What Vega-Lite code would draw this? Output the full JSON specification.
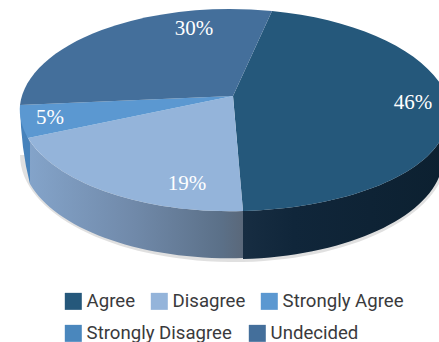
{
  "$schema": "https://vega.github.io/schema/vega-lite/v6.json",
  "width": 439,
  "height": 342,
  "padding": 0,
  "autosize": {"type": "none"},
  "background": "white",
  "config": {
    "view": {"stroke": null},
    "legend": {
      "title": null,
      "orient": "none",
      "direction": "horizontal",
      "symbolType": "square",
      "symbolSize": 289,
      "symbolStrokeWidth": 0,
      "symbolOpacity": 1,
      "labelFont": "Roboto",
      "labelFontSize": 18.6,
      "labelColor": "#3a3a3c",
      "labelOffset": 4,
      "labelLimit": 300
    }
  },
  "data": {
    "values": [
      {"answer": "Agree", "pct": 46, "label": "46%"},
      {"answer": "Disagree", "pct": 19, "label": "19%"},
      {"answer": "Strongly Agree", "pct": 5, "label": "5%"},
      {"answer": "Strongly Disagree", "pct": 0, "label": ""},
      {"answer": "Undecided", "pct": 30, "label": "30%"}
    ]
  },
  "resolve": {"scale": {"fill": "independent"}, "legend": {"fill": "independent"}},
  "layer": [
    {
      "transform": [{"filter": {"field": "answer", "equal": "Agree"}}],
      "mark": {"type": "point", "filled": true, "size": 4, "opacity": 0.12, "fill": "#000000", "strokeWidth": 0,
        "shape": "M-199.5,-16 A214,107 0 0 0 9.5,91 A214,107 0 0 0 227.5,-16 Z"}
    },
    {
      "transform": [{"filter": {"field": "answer", "equal": "Agree"}}],
      "mark": {"type": "point", "filled": true, "size": 4, "opacity": 1, "strokeWidth": 0,
        "shape": "M23.5,40 A218,94 0 0 0 227.5,-53 L223.5,-14 A214,102 0 0 1 23.5,88 Z",
        "fill": {"gradient": "linear", "x1": 0, "x2": 1, "y1": 0, "y2": 0,
          "stops": [{"offset": 0, "color": "#172d42"}, {"offset": 0.25, "color": "#10263a"}, {"offset": 1, "color": "#0c2030"}]}}
    },
    {
      "transform": [{"filter": {"field": "answer", "equal": "Disagree"}}],
      "mark": {"type": "point", "filled": true, "size": 4, "opacity": 1, "strokeWidth": 0,
        "shape": "M-191.5,-33 A210,102 0 0 0 23.5,40 L23.5,87 A207,102 0 0 1 -189.5,13 Z",
        "fill": {"gradient": "linear", "x1": 0, "x2": 1, "y1": 0, "y2": 0,
          "stops": [{"offset": 0, "color": "#84a4ca"}, {"offset": 0.5, "color": "#7089a9"}, {"offset": 0.9, "color": "#5b7088"}, {"offset": 1, "color": "#5a687a"}]}}
    },
    {
      "transform": [{"filter": {"field": "answer", "equal": "Strongly Agree"}}],
      "mark": {"type": "point", "filled": true, "size": 4, "opacity": 1, "strokeWidth": 0,
        "shape": "M-199.5,-66 Q-198.5,-21 -189.5,13 L-189.5,-28 L-191.5,-33 Z",
        "fill": "#4682bb"}
    },
    {
      "transform": [{"filter": "indexof(['Agree','Disagree','Strongly Agree'], datum.answer) >= 0"}],
      "mark": {"type": "point", "filled": true, "size": 4, "opacity": 1, "strokeWidth": 0},
      "encoding": {
        "fill": {
          "field": "answer",
          "type": "nominal",
          "scale": {
            "domain": ["Agree", "Disagree", "Strongly Agree"],
            "range": ["#25587b", "#94b4da", "#5b98d1"]
          },
          "legend": {"orient": "none", "direction": "horizontal", "legendX": 64, "legendY": 292, "columns": 3, "columnPadding": 14}
        },
        "shape": {
          "field": "answer",
          "type": "nominal",
          "legend": null,
          "scale": {
            "domain": ["Undecided", "Agree", "Disagree", "Strongly Agree", "Strongly Disagree"],
            "range": [
              "M13.5,-75 L-199.5,-66 A210,102 0 0 1 52.5,-160 Z",
              "M13.5,-75 L52.5,-160 A222,108 0 0 1 231.5,-53 L227.5,-53 A218,94 0 0 1 23.5,40 Z",
              "M13.5,-75 L23.5,40 A210,102 0 0 1 -191.5,-33 Z",
              "M13.5,-75 L-191.5,-33 A210,102 0 0 1 -199.5,-66 Z",
              "M0,0 Z"
            ]
          }
        }
      }
    },
    {
      "transform": [{"filter": "indexof(['Strongly Disagree','Undecided'], datum.answer) >= 0"}],
      "mark": {"type": "point", "filled": true, "size": 4, "opacity": 1, "strokeWidth": 0},
      "encoding": {
        "fill": {
          "field": "answer",
          "type": "nominal",
          "scale": {
            "domain": ["Strongly Disagree", "Undecided"],
            "range": ["#4a87bd", "#446f9b"]
          },
          "legend": {"orient": "none", "direction": "horizontal", "legendX": 64, "legendY": 324, "columns": 2, "columnPadding": 16}
        },
        "shape": {
          "field": "answer",
          "type": "nominal",
          "legend": null,
          "scale": {
            "domain": ["Undecided", "Agree", "Disagree", "Strongly Agree", "Strongly Disagree"],
            "range": [
              "M13.5,-75 L-199.5,-66 A210,102 0 0 1 52.5,-160 Z",
              "M13.5,-75 L52.5,-160 A222,108 0 0 1 231.5,-53 L227.5,-53 A218,94 0 0 1 23.5,40 Z",
              "M13.5,-75 L23.5,40 A210,102 0 0 1 -191.5,-33 Z",
              "M13.5,-75 L-191.5,-33 A210,102 0 0 1 -199.5,-66 Z",
              "M0,0 Z"
            ]
          }
        }
      }
    },
    {
      "transform": [{"filter": "datum.pct > 0"}],
      "mark": {"type": "text", "font": "Liberation Serif", "fontSize": 21, "color": "white", "align": "center", "baseline": "middle"},
      "encoding": {
        "x": {
          "field": "pct",
          "type": "quantitative",
          "axis": null,
          "scale": {"type": "linear", "domain": [5, 19, 30, 46], "range": [50, 187, 194, 413], "zero": false, "nice": false}
        },
        "y": {
          "field": "pct",
          "type": "quantitative",
          "axis": null,
          "scale": {"type": "linear", "domain": [5, 19, 30, 46], "range": [118, 184, 29, 103], "zero": false, "nice": false}
        },
        "text": {"field": "label", "type": "nominal"}
      }
    }
  ]
}
